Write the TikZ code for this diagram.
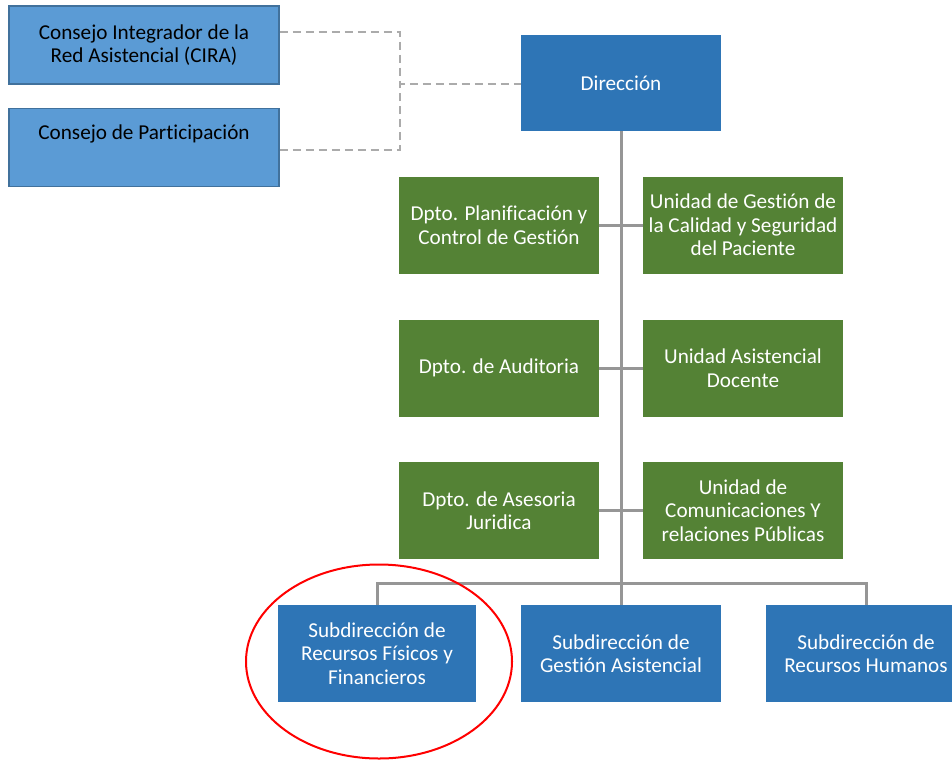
\documentclass[tikz,border=0pt]{standalone}
\usepackage{fontspec}
\usetikzlibrary{shapes.geometric}
\setmainfont[Ligatures=NoCommon]{Carlito}
\definecolor{cLight}{HTML}{5B9BD5}
\definecolor{cLightB}{HTML}{41719C}
\definecolor{cBlue}{HTML}{2E75B6}
\definecolor{cGreen}{HTML}{548235}
\definecolor{cLine}{HTML}{969696}
\definecolor{cDash}{HTML}{ABABAB}
\begin{document}
\begin{tikzpicture}[x=1pt,y=-1pt,
  every node/.style={inner sep=0pt, font=\fontsize{21.2}{23.5}\selectfont, align=center},
  lightbox/.style={draw=cLightB, line width=1.6pt, fill=cLight, text=black, minimum width=270pt, minimum height=78pt},
  bluebox/.style={fill=cBlue, text=white, minimum width=200pt, minimum height=97pt},
  greenbox/.style={fill=cGreen, text=white, minimum width=200pt, minimum height=97pt},
  conn/.style={draw=cLine, line width=3pt},
  dashconn/.style={draw=cDash, line width=1.4pt, dash pattern=on 8pt off 5pt}]
\useasboundingbox (0,0) rectangle (952,760);
\clip (0,0) rectangle (952,760);
\fill[white] (0,0) rectangle (952,760);
% council boxes
\node[lightbox] (cira) at (144,45) {Consejo Integrador de la\\Red Asistencial (CIRA)};
\node[lightbox] (part) at (144,147.5) {Consejo de Participación\\\strut};
% direction
\node[bluebox, minimum height=96pt] (dir) at (621,83) {Dirección};
% green boxes
\node[greenbox] (g1l) at (499,225) {Dpto. Planificación y\\Control de Gestión};
\node[greenbox] (g1r) at (743,225) {Unidad de Gestión de\\la Calidad y Seguridad\\del Paciente};
\node[greenbox] (g2l) at (499,368) {Dpto. de Auditoria};
\node[greenbox] (g2r) at (743,368) {Unidad Asistencial\\Docente};
\node[greenbox] (g3l) at (499,510.5) {Dpto. de Asesoria\\Juridica};
\node[greenbox] (g3r) at (743,510.5) {Unidad de\\Comunicaciones Y\\relaciones Públicas};
% bottom boxes
\node[bluebox, minimum width=198pt] (s1) at (377,653.5) {Subdirección de\\Recursos Físicos y\\Financieros};
\node[bluebox] (s2) at (621,653.5) {Subdirección de\\Gestión Asistencial};
\node[bluebox] (s3) at (866,653.5) {Subdirección de\\Recursos Humanos};
% coordinates
\coordinate (bus) at (621,583);
\coordinate (dj) at (400,84);
% dashed links
\draw[dashconn] (cira.east |- 0,32) -| (dj) -- (dir.west |- dj);
\draw[dashconn] (part.east |- 0,150) -| (dj);
% main spine
\draw[conn] (dir.south) -- (s2.north);
\foreach \l/\r in {g1l/g1r, g2l/g2r, g3l/g3r}{
  \draw[conn] (\l.east) -- (\r.west);
}
\draw[conn] (s1.north) -- (s1.north |- bus) -- (s3.north |- bus) -- (s3.north);
% highlight ellipse
\node[draw=red, line width=2pt, ellipse, minimum width=266pt, minimum height=194pt] (hl) at (379,661.5) {};
\end{tikzpicture}
\end{document}
